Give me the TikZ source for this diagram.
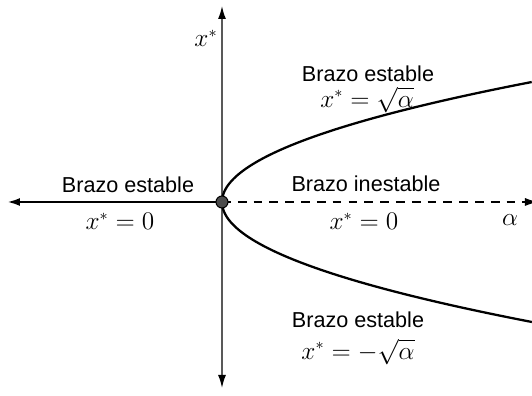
\documentclass[tikz,border=0pt]{standalone}
\usepackage{fontspec}
\setsansfont{Liberation Sans}
\usepackage{amsmath}
\usetikzlibrary{arrows.meta, positioning}

\begin{document}
\begin{tikzpicture}[
  lbl/.style={font=\sffamily\fontsize{12.3}{14}\selectfont, inner sep=0pt},
  eq/.style={font=\fontsize{13.5}{15}\selectfont, inner sep=0pt},
  tip/.style={-{Latex[length=2.6mm, width=1.6mm, color=black]}},
  branch/.style={line width=1.3pt}
]
\useasboundingbox (-4.44,-3.88) rectangle (6.20,4.04);
% axes
\coordinate (orig) at (0,0);
\coordinate (ytop) at (0,3.92);
\coordinate (ybot) at (0,-3.72);
\coordinate (xleft) at (-4.30,0);
\coordinate (xright) at (6.32,0);
\draw[gray!70!black, line width=0.9pt, tip] (orig) -- (ytop);
\draw[gray!70!black, line width=0.9pt, tip] (orig) -- (ybot);
\draw[branch, tip] (orig) -- (xleft);
\draw[line width=0.6pt, dash pattern=on 5pt off 4pt, tip] (orig) -- (xright);
% parabola
\draw[branch] plot[domain=-2.4:2.4, samples=120, smooth] ({(\x/0.964)^2},\x);
\node[circle, draw, line width=0.6pt, fill=gray!60!black, minimum size=0.24cm, inner sep=0pt] (pt) at (orig) {};
% labels
\node[eq] (xs) at (-0.32,3.28) {$x^*$};
\node[eq] (al) at (5.76,-0.36) {$\alpha$};
\node[lbl] (l1) at (-1.88,0.34) {Brazo estable};
\node[eq] (e1) at (-2.04,-0.38) {$x^*=0$};
\node[lbl] (l2) at (2.92,2.56) {Brazo estable};
\node[eq] (e2) at (2.90,2.04) {$x^*=\sqrt{\alpha}$};
\node[lbl] (l3) at (2.88,0.36) {Brazo inestable};
\node[eq] (e3) at (2.84,-0.38) {$x^*=0$};
\node[lbl] (l4) at (2.72,-2.36) {Brazo estable};
\node[eq] (e4) at (2.72,-3.00) {$x^*=-\sqrt{\alpha}$};
\end{tikzpicture}
\end{document}
